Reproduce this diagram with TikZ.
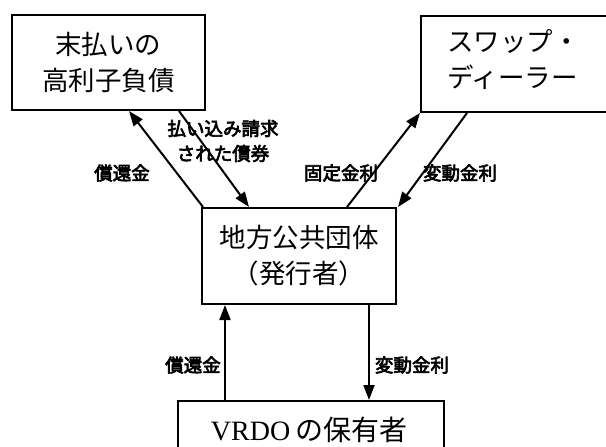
\documentclass[tikz,border=0pt]{standalone}
\usepackage{fontspec}
\usetikzlibrary{arrows.meta,calc}
\newfontfamily\cjk{Noto Sans CJK JP}
\newfontfamily\cjkb[FakeBold=3.5]{Noto Sans CJK JP}
\setmainfont{Liberation Serif}
\tikzset{
  x=1pt, y=-1pt,
  boxnode/.style={draw, line width=2pt, inner sep=0pt, align=center, font=\cjk\fontsize{26.5}{36}\selectfont},
  boxtext/.style={inner sep=0pt, font=\cjk\fontsize{26.5}{36}\selectfont},
  lbl/.style={inner sep=0pt, align=center, font=\cjkb\fontsize{18.5}{25}\selectfont},
  arr/.style={line width=2pt, -{Triangle[length=15pt,width=11pt]}}
}
\begin{document}
\begin{tikzpicture}
\clip (0,0) rectangle (606,447);
\fill[white] (0,0) rectangle (606,447);
\node[boxnode, minimum width=193pt, minimum height=95pt] (tl) at (108.5,62.5) {末払いの\\高利子負債};
\node[boxnode, minimum width=209pt, minimum height=96pt] (tr) at (525.5,64) {};
\node[boxtext, align=left, anchor=west] (trt) at (447,60) {スワップ・\\ディーラー};
\node[boxnode, minimum width=194pt, minimum height=96pt] (mid) at (299,256) {地方公共団体\\（発行者）};
\node[boxnode, minimum width=266pt, minimum height=70pt] (bot) at (311,436) {};
\node[inner sep=0pt] (bott) at (309,430) {\fontsize{28}{30}\selectfont VRDO\,{\cjk の保有者}};
% arrows
\draw[arr] ($(mid.north west)+(2,0)$) -- ($(tl.south west)+(118,0)$);
\draw[arr] ($(tl.south west)+(168,0)$) -- ($(mid.north west)+(48,0)$);
\draw[arr] ($(mid.north west)+(146,0)$) -- (tr.south west);
\draw[arr] ($(tr.south west)+(47,0)$) -- ($(mid.north east)+(1,0)$);
\draw[arr] ($(bot.north west)+(48,0)$) -- ($(mid.south west)+(24,0)$);
\draw[arr] ($(mid.south west)+(168,0)$) -- ($(bot.north west)+(192,0)$);
% labels
\node[lbl] (l1) at (122,173) {償還金};
\node[lbl] (l2) at (223,141) {払い込み請求\\された債券};
\node[lbl] (l3) at (341,173) {固定金利};
\node[lbl] (l4) at (460,173) {変動金利};
\node[lbl] (l5) at (193,365) {償還金};
\node[lbl] (l6) at (412,365) {変動金利};
\end{tikzpicture}
\end{document}
